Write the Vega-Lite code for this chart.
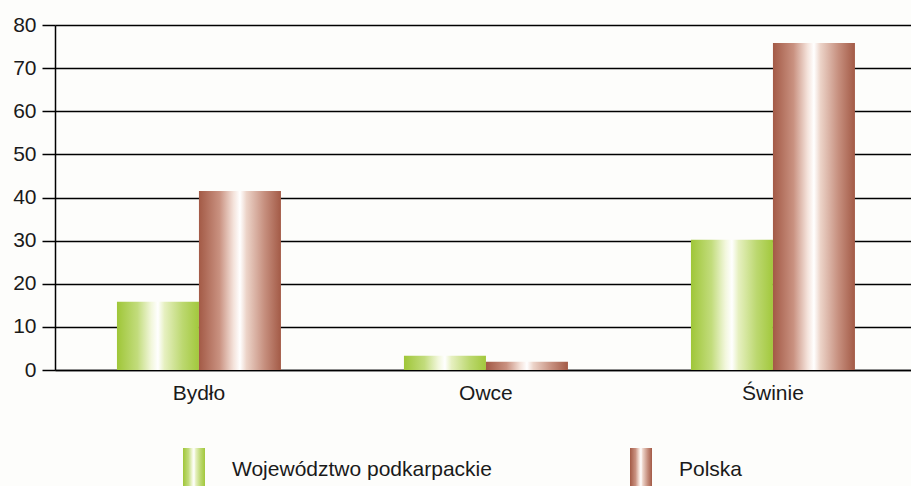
{
  "$schema": "https://vega.github.io/schema/vega-lite/v6.json",
  "width": 856,
  "height": 345,
  "autosize": {"type": "none"},
  "padding": {"left": 55, "top": 25, "right": 0, "bottom": 116},
  "background": "#fdfdfb",
  "config": {
    "view": {"stroke": null},
    "font": "Liberation Sans",
    "axis": {"labelFont": "Liberation Sans", "labelColor": "#1a1a1a"},
    "legend": {"labelFont": "Liberation Sans", "labelColor": "#1a1a1a"}
  },
  "data": {
    "values": [
      {"kategoria": "Bydło", "seria": "Województwo podkarpackie", "wartosc": 15.8},
      {"kategoria": "Bydło", "seria": "Polska", "wartosc": 41.5},
      {"kategoria": "Owce", "seria": "Województwo podkarpackie", "wartosc": 3.3},
      {"kategoria": "Owce", "seria": "Polska", "wartosc": 1.9},
      {"kategoria": "Świnie", "seria": "Województwo podkarpackie", "wartosc": 30.2},
      {"kategoria": "Świnie", "seria": "Polska", "wartosc": 75.8}
    ]
  },
  "mark": {"type": "bar"},
  "encoding": {
    "x": {
      "field": "kategoria",
      "type": "nominal",
      "sort": ["Bydło", "Owce", "Świnie"],
      "scale": {"paddingInner": 0.4286, "paddingOuter": 0.2056, "align": 0.525},
      "axis": {
        "title": null,
        "labelAngle": 0,
        "labelFontSize": 21,
        "labelPadding": 12,
        "ticks": false,
        "domainColor": "#000000",
        "domainWidth": 1.5,
        "grid": false
      }
    },
    "xOffset": {
      "field": "seria",
      "type": "nominal",
      "sort": ["Województwo podkarpackie", "Polska"],
      "scale": {"paddingInner": 0, "paddingOuter": 0}
    },
    "y": {
      "field": "wartosc",
      "type": "quantitative",
      "scale": {"domain": [0, 80], "nice": false},
      "axis": {
        "title": null,
        "values": [0, 10, 20, 30, 40, 50, 60, 70, 80],
        "labelFontSize": 21,
        "labelPadding": 6,
        "tickSize": 13,
        "tickColor": "#000000",
        "tickWidth": 1.5,
        "domainColor": "#000000",
        "domainWidth": 1.5,
        "grid": true,
        "gridColor": "#000000",
        "gridWidth": 1.5,
        "gridOpacity": 1
      }
    },
    "color": {
      "field": "seria",
      "type": "nominal",
      "sort": ["Województwo podkarpackie", "Polska"],
      "scale": {
        "domain": ["Województwo podkarpackie", "Polska"],
        "range": [
          {"expr": "{gradient: 'linear', x1: 0, y1: 0, x2: 1, y2: 0, stops: [{offset: 0, color: '#9fc638'}, {offset: 0.25, color: '#c2dc7c'}, {offset: 0.42, color: '#f2f7dc'}, {offset: 0.5, color: '#ffffff'}, {offset: 0.58, color: '#e6f0c0'}, {offset: 0.8, color: '#bcd870'}, {offset: 1, color: '#a2c83c'}]}"},
          {"expr": "{gradient: 'linear', x1: 0, y1: 0, x2: 1, y2: 0, stops: [{offset: 0, color: '#a35a46'}, {offset: 0.25, color: '#c99180'}, {offset: 0.42, color: '#f4e2da'}, {offset: 0.5, color: '#ffffff'}, {offset: 0.58, color: '#ecd3c8'}, {offset: 0.8, color: '#c68f7e'}, {offset: 1, color: '#a35a46'}]}"}
        ]
      },
      "legend": {
        "title": null,
        "orient": "none",
        "direction": "horizontal",
        "legendX": 117,
        "legendY": 423,
        "padding": 0,
        "columns": 2,
        "columnPadding": 127,
        "symbolType": "M-0.5,-1L0.5,-1L0.5,1L-0.5,1Z",
        "symbolSize": 1936,
        "symbolStrokeWidth": 0,
        "symbolOpacity": 1,
        "labelFontSize": 21,
        "labelOffset": 16,
        "labelLimit": 400
      }
    }
  }
}
